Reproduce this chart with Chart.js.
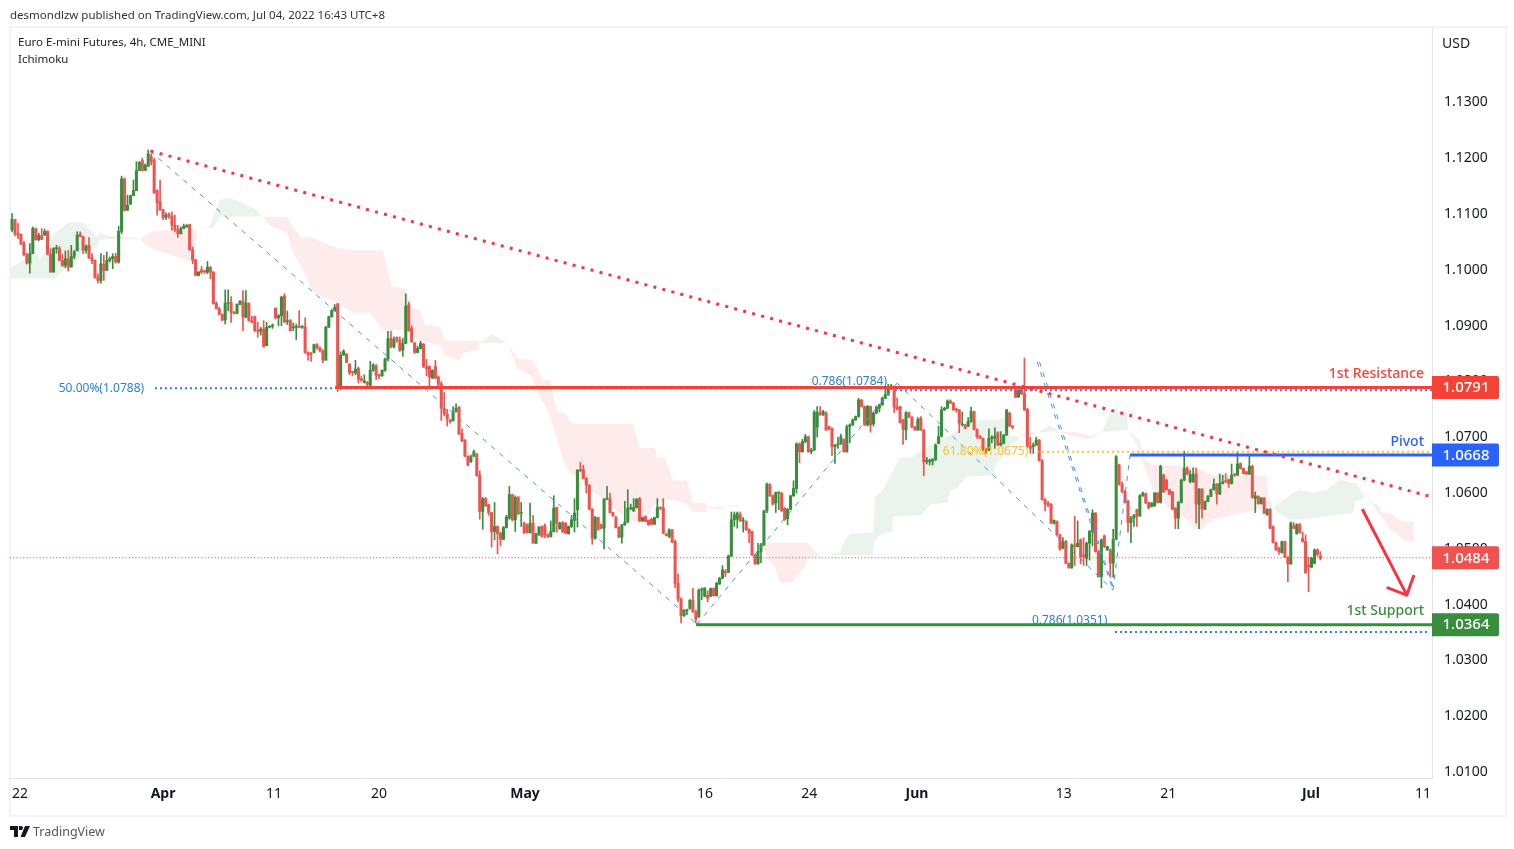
<!DOCTYPE html>
<html>
<head>
<meta charset="utf-8">
<title>Euro E-mini Futures</title>
<script src="https://cdn.jsdelivr.net/npm/chart.js@4/dist/chart.umd.min.js"></script>
<style>
  html, body { margin: 0; padding: 0; background: #fff; overflow: hidden; }
  body { width: 1514px; height: 849px; position: relative; font-family: "Noto Sans", sans-serif; color: #131722; }
  canvas { position: absolute; left: 0; top: 0; }
  .frame { position: absolute; left: 9px; top: 26px; width: 1494px; height: 787px; border: 2px solid #f0f3fa; }
  .txt { position: absolute; white-space: nowrap; }
</style>
</head>
<body>
<div class="frame"></div>
<canvas id="chart" width="1514" height="849"></canvas>
<div class="txt" style="left:10px;top:7px;font-size:11.5px;color:#333">desmondlzw published on TradingView.com, Jul 04, 2022 16:43 UTC+8</div>
<div class="txt" style="left:18px;top:34px;font-size:11.5px;color:#222">Euro E-mini Futures, 4h, CME_MINI</div>
<div class="txt" style="left:18px;top:51px;font-size:11.5px;color:#222">Ichimoku</div>
<div class="txt" style="left:1442px;top:33px;font-size:14px;color:#222">USD</div>
<svg class="txt" style="left:10px;top:826px" width="20" height="11" viewBox="0 0 20 11"><path fill="#131722" d="M0 0h8v11H4V4H0zM9 0h2a2 2 0 1 1 0 4H9zM15 0h5l-5 11h-4.500z"/></svg>
<div class="txt" style="left:33px;top:823px;font-size:12.500px;color:#555">TradingView</div>
<script>
// цены свечей
const opens = [
1.1072,1.1090,1.1065,1.1064,1.1048,1.1027,1.1012,1.1029,1.1074,1.1054,
1.1061,1.1062,1.1069,1.1028,1.0996,1.1038,1.1038,1.1017,1.1008,1.1020,
1.1005,1.1024,1.1034,1.1064,1.1060,1.1035,1.1044,1.1022,1.1017,1.0986,
1.0981,1.1010,1.0999,1.1017,1.1020,1.1024,1.1014,1.1069,1.1163,1.1107,
1.1118,1.1133,1.1142,1.1178,1.1196,1.1178,1.1186,1.1203,1.1196,1.1142,
1.1122,1.1108,1.1094,1.1100,1.1096,1.1080,1.1072,1.1065,1.1074,1.1077,
1.1081,1.1036,1.1018,1.0990,1.1000,1.0998,1.0996,1.1004,1.0996,1.0940,
1.0930,1.0920,1.0910,1.0940,1.0941,1.0924,1.0922,1.0938,1.0944,1.0915,
1.0940,1.0909,1.0916,1.0891,1.0890,1.0894,1.0864,1.0897,1.0899,1.0931,
1.0914,1.0918,1.0953,1.0907,1.0909,1.0896,1.0897,1.0898,1.0897,1.0898,
1.0852,1.0850,1.0852,1.0866,1.0860,1.0855,1.0838,1.0897,1.0916,1.0927,
1.0939,
1.0787,1.0847,1.0849,1.0831,1.0817,1.0815,1.0823,1.0805,1.0798,1.0798,
1.0793,1.0820,1.0828,1.0812,1.0810,1.0820,1.0840,1.0877,1.0862,1.0879,
1.0874,1.0856,1.0868,1.0937,1.0895,1.0869,1.0852,1.0859,1.0867,1.0825,
1.0827,1.0806,1.0827,1.0808,1.0796,1.0752,1.0742,1.0731,1.0730,1.0746,
1.0754,1.0707,1.0695,1.0666,1.0656,1.0666,1.0670,1.0632,1.0567,1.0590,
1.0579,1.0565,1.0531,1.0540,1.0528,1.0517,1.0538,1.0555,1.0597,1.0552,
1.0592,1.0564,1.0546,1.0543,1.0529,1.0546,1.0510,1.0525,1.0540,1.0541,
1.0525,1.0522,1.0531,1.0574,1.0536,1.0547,1.0546,1.0527,1.0540,1.0551,
1.0570,1.0642,1.0642,1.0626,1.0614,1.0571,1.0519,1.0556,1.0543,1.0537,
1.0589,1.0589,1.0565,1.0556,1.0538,1.0521,1.0543,1.0548,1.0572,1.0568,
1.0574,1.0590,1.0550,1.0558,1.0551,1.0553,1.0544,1.0556,1.0574,1.0574,
1.0526,1.0522,1.0534,1.0513,1.0438,1.0410,1.0380,1.0389,1.0393,1.0408,
1.0387,1.0378,1.0426,1.0415,1.0417,1.0415,1.0429,1.0416,1.0437,1.0447,
1.0459,
1.0458,1.0487,1.0552,1.0553,1.0561,1.0550,1.0549,1.0535,1.0531,1.0489,
1.0473,1.0495,1.0507,1.0568,1.0615,1.0595,1.0582,1.0600,1.0600,1.0573,
1.0554,1.0571,1.0595,1.0608,1.0688,1.0674,1.0692,1.0701,1.0674,1.0677,
1.0718,1.0744,1.0740,1.0743,1.0719,1.0716,1.0683,1.0686,1.0688,1.0696,
1.0674,1.0719,1.0722,1.0731,1.0737,1.0766,1.0755,1.0722,1.0755,1.0724,
1.0743,1.0752,1.0758,1.0770,1.0776,1.0788,1.0785,1.0754,1.0755,1.0731,
1.0713,1.0744,1.0736,1.0718,1.0713,1.0734,1.0713,1.0656,1.0656,1.0657,
1.0660,1.0689,1.0702,1.0749,1.0752,1.0765,1.0761,1.0750,1.0749,1.0722,
1.0722,1.0720,1.0728,1.0746,1.0714,1.0702,1.0698,1.0677,1.0677,1.0697,
1.0698,1.0708,1.0686,1.0689,1.0704,1.0743,1.0720,1.0784,1.0772,1.0784,
1.0778,1.0750,1.0684,1.0683,1.0686,1.0695,1.0658,
1.0588,1.0582,1.0580,1.0546,1.0549,1.0525,1.0501,1.0513,1.0474,1.0466,
1.0507,1.0504,1.0516,1.0489,1.0483,1.0510,1.0531,1.0564,1.0495,1.0450,
1.0523,1.0498,1.0498,1.0474,1.0517,1.0650,1.0615,1.0603,1.0586,1.0547,
1.0555,1.0570,1.0559,1.0595,1.0599,1.0583,1.0576,1.0577,1.0600,1.0583,
1.0632,1.0623,1.0606,1.0602,1.0573,1.0555,1.0583,1.0623,1.0644,1.0620,
1.0620,1.0634,1.0580,1.0607,1.0571,1.0585,1.0594,1.0606,1.0616,1.0598,
1.0617,1.0622,1.0624,1.0617,1.0634,1.0632,1.0653,1.0644,1.0638,1.0634,
1.0648,1.0590,1.0594,1.0581,1.0591,1.0561,1.0571,1.0540,1.0511,1.0501,
1.0493,1.0513,1.0485,1.0473,1.0541,1.0527,1.0544,1.0519,1.0513,1.0471,
1.0467,1.0474,1.0498,1.0487];
const highs = [
1.1101,1.1090,1.1083,1.1064,1.1051,1.1030,1.1047,1.1077,1.1075,1.1066,
1.1074,1.1073,1.1070,1.1038,1.1040,1.1044,1.1042,1.1028,1.1034,1.1035,
1.1044,1.1035,1.1068,1.1068,1.1060,1.1045,1.1058,1.1029,1.1018,1.0993,
1.1029,1.1026,1.1032,1.1023,1.1029,1.1030,1.1078,1.1168,1.1165,1.1134,
1.1134,1.1161,1.1194,1.1194,1.1200,1.1190,1.1215,1.1208,1.1200,1.1144,
1.1161,1.1109,1.1102,1.1102,1.1104,1.1098,1.1080,1.1077,1.1082,1.1081,
1.1082,1.1041,1.1019,1.0997,1.1006,1.1000,1.1015,1.1006,1.0997,1.0943,
1.0933,1.0921,1.0964,1.0964,1.0952,1.0925,1.0939,1.0945,1.0963,1.0963,
1.0941,1.0917,1.0917,1.0906,1.0897,1.0909,1.0906,1.0900,1.0903,1.0932,
1.0920,1.0953,1.0957,1.0926,1.0911,1.0905,1.0903,1.0927,1.0900,1.0914,
1.0853,1.0852,1.0867,1.0868,1.0862,1.0857,1.0899,1.0917,1.0929,1.0938,
1.0940,
1.0853,1.0857,1.0850,1.0832,1.0818,1.0838,1.0826,1.0810,1.0812,1.0800,
1.0836,1.0832,1.0830,1.0813,1.0821,1.0842,1.0890,1.0890,1.0880,1.0880,
1.0880,1.0877,1.0957,1.0942,1.0900,1.0870,1.0863,1.0872,1.0868,1.0840,
1.0828,1.0821,1.0838,1.0810,1.0800,1.0780,1.0750,1.0732,1.0755,1.0760,
1.0755,1.0715,1.0696,1.0667,1.0668,1.0677,1.0671,1.0640,1.0592,1.0592,
1.0580,1.0565,1.0583,1.0541,1.0530,1.0540,1.0560,1.0612,1.0598,1.0595,
1.0594,1.0583,1.0548,1.0545,1.0582,1.0560,1.0528,1.0540,1.0541,1.0545,
1.0527,1.0550,1.0595,1.0575,1.0548,1.0549,1.0547,1.0541,1.0560,1.0590,
1.0642,1.0655,1.0650,1.0628,1.0615,1.0572,1.0558,1.0557,1.0545,1.0590,
1.0612,1.0600,1.0566,1.0558,1.0540,1.0544,1.0585,1.0606,1.0580,1.0590,
1.0590,1.0592,1.0557,1.0559,1.0552,1.0555,1.0557,1.0590,1.0575,1.0590,
1.0528,1.0536,1.0535,1.0516,1.0455,1.0412,1.0391,1.0392,1.0409,1.0429,
1.0390,1.0428,1.0430,1.0430,1.0425,1.0430,1.0430,1.0440,1.0449,1.0470,
1.0463,
1.0489,1.0566,1.0566,1.0566,1.0566,1.0556,1.0550,1.0536,1.0532,1.0490,
1.0510,1.0510,1.0569,1.0618,1.0617,1.0597,1.0602,1.0602,1.0601,1.0574,
1.0572,1.0596,1.0622,1.0690,1.0690,1.0696,1.0705,1.0702,1.0680,1.0748,
1.0755,1.0755,1.0748,1.0746,1.0720,1.0717,1.0687,1.0700,1.0705,1.0697,
1.0722,1.0724,1.0733,1.0738,1.0770,1.0768,1.0756,1.0757,1.0756,1.0745,
1.0756,1.0759,1.0772,1.0790,1.0795,1.0795,1.0787,1.0770,1.0756,1.0732,
1.0746,1.0745,1.0737,1.0720,1.0735,1.0737,1.0714,1.0664,1.0661,1.0662,
1.0688,1.0720,1.0755,1.0754,1.0767,1.0767,1.0763,1.0752,1.0750,1.0745,
1.0723,1.0735,1.0754,1.0747,1.0715,1.0703,1.0699,1.0680,1.0715,1.0703,
1.0717,1.0710,1.0710,1.0705,1.0750,1.0745,1.0721,1.0786,1.0786,1.0790,
1.0842,1.0752,1.0700,1.0690,1.0700,1.0696,1.0660,
1.0590,1.0585,1.0581,1.0552,1.0550,1.0526,1.0520,1.0515,1.0475,1.0509,
1.0558,1.0550,1.0518,1.0520,1.0512,1.0533,1.0570,1.0565,1.0497,1.0518,
1.0525,1.0505,1.0500,1.0535,1.0667,1.0652,1.0620,1.0605,1.0587,1.0558,
1.0562,1.0571,1.0597,1.0602,1.0600,1.0584,1.0583,1.0601,1.0601,1.0650,
1.0634,1.0625,1.0607,1.0603,1.0574,1.0585,1.0625,1.0675,1.0647,1.0640,
1.0645,1.0645,1.0608,1.0608,1.0586,1.0596,1.0607,1.0625,1.0617,1.0634,
1.0632,1.0635,1.0625,1.0652,1.0635,1.0675,1.0654,1.0645,1.0639,1.0670,
1.0650,1.0602,1.0595,1.0592,1.0592,1.0572,1.0572,1.0541,1.0512,1.0503,
1.0514,1.0514,1.0486,1.0548,1.0547,1.0545,1.0545,1.0530,1.0525,1.0485,
1.0485,1.0500,1.0500,1.0495];
const lows = [
1.1068,1.1061,1.1056,1.1045,1.1025,1.1010,1.0994,1.1029,1.1053,1.1052,
1.1054,1.1062,1.1027,1.0996,1.0996,1.1030,1.1016,1.1006,1.1004,1.0998,
1.1005,1.1020,1.1034,1.1059,1.1029,1.1030,1.1020,1.1011,1.0985,1.0976,
1.0976,1.0981,1.0999,1.1014,1.1002,1.1012,1.1012,1.1065,1.1105,1.1106,
1.1117,1.1133,1.1142,1.1178,1.1177,1.1178,1.1185,1.1188,1.1137,1.1098,
1.1107,1.1090,1.1090,1.1092,1.1071,1.1068,1.1058,1.1064,1.1074,1.1076,
1.1035,1.1011,1.0990,1.0989,1.0993,1.0994,1.0993,1.0984,1.0939,1.0930,
1.0919,1.0909,1.0903,1.0927,1.0906,1.0921,1.0921,1.0937,1.0891,1.0914,
1.0908,1.0905,1.0889,1.0879,1.0883,1.0862,1.0864,1.0896,1.0895,1.0912,
1.0900,1.0900,1.0905,1.0902,1.0890,1.0891,1.0875,1.0896,1.0895,1.0850,
1.0838,1.0836,1.0851,1.0858,1.0853,1.0833,1.0838,1.0897,1.0915,1.0926,
1.0782,
1.0785,1.0847,1.0834,1.0812,1.0810,1.0812,1.0797,1.0800,1.0797,1.0787,
1.0790,1.0818,1.0803,1.0805,1.0809,1.0818,1.0837,1.0860,1.0860,1.0870,
1.0854,1.0845,1.0868,1.0890,1.0870,1.0850,1.0851,1.0858,1.0825,1.0810,
1.0792,1.0805,1.0805,1.0787,1.0730,1.0738,1.0720,1.0725,1.0729,1.0745,
1.0705,1.0692,1.0665,1.0649,1.0655,1.0665,1.0630,1.0553,1.0535,1.0576,
1.0560,1.0503,1.0516,1.0491,1.0505,1.0516,1.0537,1.0553,1.0550,1.0531,
1.0561,1.0540,1.0527,1.0528,1.0528,1.0510,1.0509,1.0524,1.0521,1.0520,
1.0520,1.0521,1.0530,1.0530,1.0535,1.0529,1.0527,1.0526,1.0538,1.0530,
1.0539,1.0638,1.0625,1.0600,1.0570,1.0508,1.0517,1.0533,1.0536,1.0500,
1.0588,1.0564,1.0558,1.0537,1.0520,1.0510,1.0542,1.0547,1.0570,1.0567,
1.0573,1.0549,1.0549,1.0548,1.0542,1.0543,1.0543,1.0555,1.0570,1.0527,
1.0523,1.0520,1.0511,1.0430,1.0405,1.0367,1.0379,1.0382,1.0392,1.0386,
1.0367,1.0377,1.0409,1.0414,1.0405,1.0414,1.0415,1.0415,1.0436,1.0446,
1.0450,
1.0457,1.0486,1.0540,1.0537,1.0549,1.0530,1.0533,1.0511,1.0488,1.0472,
1.0472,1.0475,1.0506,1.0565,1.0594,1.0578,1.0565,1.0570,1.0567,1.0551,
1.0543,1.0570,1.0594,1.0600,1.0654,1.0673,1.0690,1.0673,1.0670,1.0676,
1.0700,1.0739,1.0739,1.0712,1.0713,1.0667,1.0653,1.0680,1.0687,1.0673,
1.0673,1.0690,1.0721,1.0730,1.0736,1.0754,1.0721,1.0720,1.0709,1.0720,
1.0742,1.0745,1.0757,1.0769,1.0775,1.0785,1.0744,1.0749,1.0725,1.0687,
1.0695,1.0735,1.0717,1.0712,1.0712,1.0712,1.0631,1.0652,1.0650,1.0650,
1.0658,1.0688,1.0700,1.0748,1.0751,1.0760,1.0748,1.0745,1.0708,1.0720,
1.0715,1.0719,1.0727,1.0713,1.0698,1.0697,1.0676,1.0670,1.0676,1.0690,
1.0680,1.0685,1.0685,1.0688,1.0703,1.0719,1.0715,1.0771,1.0771,1.0776,
1.0748,1.0682,1.0671,1.0671,1.0685,1.0657,1.0587,
1.0568,1.0575,1.0545,1.0544,1.0524,1.0497,1.0500,1.0473,1.0465,1.0465,
1.0470,1.0503,1.0473,1.0470,1.0470,1.0480,1.0505,1.0494,1.0449,1.0430,
1.0502,1.0497,1.0449,1.0449,1.0516,1.0614,1.0600,1.0582,1.0530,1.0511,
1.0540,1.0540,1.0558,1.0594,1.0581,1.0572,1.0575,1.0576,1.0582,1.0582,
1.0601,1.0605,1.0597,1.0570,1.0536,1.0536,1.0582,1.0622,1.0633,1.0618,
1.0619,1.0546,1.0536,1.0555,1.0570,1.0584,1.0593,1.0605,1.0580,1.0597,
1.0616,1.0619,1.0610,1.0616,1.0630,1.0631,1.0643,1.0634,1.0633,1.0633,
1.0591,1.0565,1.0580,1.0580,1.0563,1.0560,1.0536,1.0510,1.0497,1.0490,
1.0492,1.0484,1.0441,1.0472,1.0536,1.0526,1.0528,1.0512,1.0456,1.0423,
1.0466,1.0473,1.0487,1.0480];
const closes = [
1.1090,1.1064,1.1062,1.1047,1.1027,1.1012,1.1029,1.1074,1.1054,1.1062,
1.1055,1.1069,1.1028,1.0996,1.1038,1.1039,1.1017,1.1008,1.1020,1.1005,
1.1024,1.1032,1.1062,1.1060,1.1035,1.1042,1.1022,1.1016,1.0986,1.0981,
1.1011,1.0999,1.1017,1.1020,1.1024,1.1014,1.1069,1.1163,1.1107,1.1116,
1.1133,1.1142,1.1178,1.1193,1.1178,1.1188,1.1208,1.1194,1.1138,1.1120,
1.1107,1.1094,1.1098,1.1096,1.1080,1.1072,1.1065,1.1074,1.1078,1.1080,
1.1036,1.1018,1.0990,1.0996,1.0996,1.0996,1.1005,1.0996,1.0939,1.0930,
1.0920,1.0910,1.0940,1.0941,1.0924,1.0922,1.0938,1.0944,1.0915,1.0941,
1.0909,1.0906,1.0891,1.0890,1.0894,1.0862,1.0897,1.0899,1.0900,1.0914,
1.0918,1.0951,1.0907,1.0909,1.0891,1.0898,1.0899,1.0897,1.0898,1.0852,
1.0848,1.0848,1.0866,1.0860,1.0855,1.0838,1.0897,1.0916,1.0927,1.0933,
1.0787,
1.0847,1.0854,1.0834,1.0816,1.0816,1.0822,1.0804,1.0802,1.0801,1.0795,
1.0820,1.0830,1.0811,1.0810,1.0820,1.0840,1.0877,1.0862,1.0875,1.0874,
1.0856,1.0868,1.0935,1.0891,1.0871,1.0852,1.0859,1.0868,1.0826,1.0823,
1.0808,1.0820,1.0806,1.0795,1.0752,1.0742,1.0733,1.0728,1.0745,1.0752,
1.0706,1.0693,1.0666,1.0650,1.0665,1.0674,1.0631,1.0567,1.0590,1.0577,
1.0565,1.0531,1.0540,1.0527,1.0517,1.0538,1.0557,1.0597,1.0552,1.0592,
1.0563,1.0565,1.0529,1.0529,1.0546,1.0510,1.0527,1.0539,1.0522,1.0525,
1.0522,1.0531,1.0573,1.0546,1.0546,1.0531,1.0528,1.0540,1.0552,1.0564,
1.0641,1.0640,1.0626,1.0614,1.0571,1.0519,1.0556,1.0535,1.0537,1.0589,
1.0591,1.0565,1.0559,1.0538,1.0521,1.0543,1.0548,1.0573,1.0573,1.0574,
1.0589,1.0550,1.0556,1.0549,1.0543,1.0544,1.0556,1.0574,1.0573,1.0528,
1.0524,1.0534,1.0512,1.0438,1.0410,1.0380,1.0390,1.0391,1.0408,1.0387,
1.0374,1.0426,1.0428,1.0430,1.0411,1.0429,1.0416,1.0438,1.0447,1.0462,
1.0457,
1.0487,1.0552,1.0561,1.0564,1.0550,1.0552,1.0534,1.0528,1.0489,1.0473,
1.0495,1.0507,1.0568,1.0616,1.0595,1.0580,1.0601,1.0601,1.0568,1.0552,
1.0571,1.0595,1.0608,1.0688,1.0674,1.0692,1.0701,1.0674,1.0677,1.0745,
1.0745,1.0740,1.0746,1.0713,1.0714,1.0683,1.0686,1.0688,1.0701,1.0674,
1.0719,1.0722,1.0731,1.0737,1.0767,1.0755,1.0722,1.0755,1.0722,1.0743,
1.0754,1.0758,1.0770,1.0776,1.0791,1.0792,1.0754,1.0750,1.0726,1.0714,
1.0744,1.0736,1.0718,1.0713,1.0732,1.0713,1.0656,1.0659,1.0659,1.0660,
1.0686,1.0701,1.0749,1.0752,1.0765,1.0761,1.0749,1.0749,1.0725,1.0723,
1.0716,1.0728,1.0746,1.0714,1.0701,1.0698,1.0677,1.0675,1.0698,1.0700,
1.0702,1.0686,1.0690,1.0704,1.0749,1.0720,1.0718,1.0772,1.0784,1.0778,
1.0749,1.0683,1.0680,1.0686,1.0695,1.0658,1.0588,
1.0580,1.0579,1.0546,1.0551,1.0525,1.0500,1.0513,1.0474,1.0466,1.0507,
1.0504,1.0510,1.0486,1.0486,1.0510,1.0531,1.0564,1.0495,1.0450,1.0516,
1.0504,1.0504,1.0474,1.0517,1.0665,1.0615,1.0603,1.0583,1.0547,1.0555,
1.0560,1.0558,1.0595,1.0600,1.0582,1.0573,1.0582,1.0600,1.0583,1.0648,
1.0602,1.0606,1.0598,1.0571,1.0555,1.0583,1.0623,1.0644,1.0634,1.0633,
1.0634,1.0580,1.0607,1.0571,1.0585,1.0594,1.0606,1.0616,1.0598,1.0617,
1.0620,1.0620,1.0617,1.0632,1.0632,1.0652,1.0644,1.0635,1.0634,1.0648,
1.0592,1.0595,1.0581,1.0591,1.0564,1.0570,1.0537,1.0511,1.0498,1.0495,
1.0513,1.0485,1.0473,1.0546,1.0537,1.0543,1.0529,1.0513,1.0457,1.0468,
1.0483,1.0498,1.0490,1.0483];

// облако ишимоку: индекс бара и две границы
const cloudIdx = [0,3.4,7.8,9.1,10.1,15.2,17.6,19.3,22,24.7,29.4,30.4,32.8,42.9,43.9,47.3,54,61.8,63.2,67.6,68.6,70.9,74.3,77.7,83.4,85.1,87.8,93.6,95.6,98.6,102.4,110.5,115.9,121.6,126,128.4,129.4,133.4,135.8,138.5,140.2,145.3,147,152,153,158.1,158.8,162.8,164.5,167.9,170,171.3,176.4,178.4,179.7,182.4,184.8,187.5,189.9,191.6,199.3,204.4,209.5,210.5,212.8,214.5,216.9,217.9,218.9,221.3,224,228.7,230.7,234.8,235.8,240.5,242.6,249,250.7,253.4,256.8,258.4,260,264.5,268.6,269.6,273.6,280.4,282.1,283.8,291.6,292.2,294.9,298,298.3,300.7,305,308,310.8,316.6,317.6,320,323.3,324.3,331,332,333.4,336.1,337.2,341.2,344.6,347,351.4,354.7,359.8,365.5,368.9,371.6,377.4,377.7,380.7,381.8,382.4,386.1,390.9,397.6,400.3,402.7,406.4,424.7,425,426.4,428,432.4,435.8,440.2,444.9,449.3,453.7,454.4,455,457.8,460.5,462.2,463.5,466.2,469.6,470.3,474.3];
const spanA = [1.1002,1.1014,1.1030,1.1032,1.1018,1.1066,1.1075,1.1084,1.1086,1.1084,1.1059,1.1066,1.1061,1.1057,1.1055,1.1039,1.1027,1.1014,1.1073,1.1077,1.1095,1.1125,1.1129,1.1122,1.1107,1.1095,1.1080,1.1066,1.1030,1.1005,1.0959,1.0941,1.0923,1.0923,1.0892,1.0892,1.0892,1.0892,1.0882,1.0874,1.0871,1.0865,1.0847,1.0837,1.0851,1.0856,1.0869,1.0885,1.0880,1.0869,1.0844,1.0824,1.0808,1.0781,1.0767,1.0740,1.0695,1.0650,1.0632,1.0629,1.0593,1.0570,1.0552,1.0550,1.0548,1.0548,1.0575,1.0579,1.0582,1.0588,1.0588,1.0579,1.0566,1.0566,1.0573,1.0570,1.0577,1.0577,1.0546,1.0511,1.0475,1.0468,1.0439,1.0441,1.0468,1.0484,1.0487,1.0494,1.0516,1.0527,1.0529,1.0593,1.0606,1.0638,1.0641,1.0663,1.0665,1.0677,1.0686,1.0701,1.0704,1.0713,1.0726,1.0731,1.0731,1.0731,1.0731,1.0735,1.0704,1.0700,1.0702,1.0708,1.0722,1.0710,1.0700,1.0697,1.0710,1.0745,1.0745,1.0713,1.0686,1.0672,1.0659,1.0606,1.0575,1.0552,1.0534,1.0534,1.0552,1.0575,1.0575,1.0575,1.0579,1.0597,1.0606,1.0600,1.0606,1.0624,1.0618,1.0618,1.0615,1.0593,1.0579,1.0564,1.0557,1.0534,1.0522,1.0516,1.0512];
const spanB = [1.0984,1.0984,1.0984,1.0984,1.0984,1.0984,1.0996,1.1003,1.1014,1.1030,1.1041,1.1054,1.1055,1.1055,1.1055,1.1068,1.1072,1.1073,1.1073,1.1075,1.1075,1.1095,1.1095,1.1095,1.1095,1.1095,1.1095,1.1095,1.1077,1.1059,1.1057,1.1039,1.1035,1.1035,1.1035,1.0982,1.0969,1.0968,1.0932,1.0928,1.0901,1.0898,1.0873,1.0873,1.0873,1.0873,1.0869,1.0869,1.0869,1.0869,1.0853,1.0842,1.0838,1.0821,1.0804,1.0804,1.0745,1.0743,1.0724,1.0724,1.0724,1.0724,1.0724,1.0724,1.0681,1.0681,1.0681,1.0681,1.0663,1.0663,1.0623,1.0623,1.0582,1.0582,1.0575,1.0575,1.0575,1.0577,1.0546,1.0511,1.0511,1.0511,1.0511,1.0511,1.0511,1.0511,1.0487,1.0489,1.0489,1.0489,1.0489,1.0516,1.0528,1.0530,1.0557,1.0559,1.0559,1.0561,1.0579,1.0582,1.0604,1.0609,1.0629,1.0629,1.0631,1.0633,1.0654,1.0668,1.0681,1.0700,1.0711,1.0708,1.0710,1.0710,1.0710,1.0702,1.0710,1.0710,1.0713,1.0713,1.0699,1.0695,1.0665,1.0650,1.0650,1.0650,1.0645,1.0641,1.0632,1.0632,1.0597,1.0575,1.0566,1.0552,1.0552,1.0555,1.0559,1.0561,1.0564,1.0582,1.0582,1.0593,1.0582,1.0579,1.0564,1.0564,1.0552,1.0550,1.0548];

// линии разметки
const trendIdx = [47.5, 480.4];
const trendPrice = [1.1213, 1.0593];
const legAIdx = [47.3, 232.1];
const legAPrice = [1.1213, 1.0365];
const legBIdx = [232.1, 299.7];
const legBPrice = [1.0365, 1.0797];
const legCIdx = [299.7, 372.6];
const legCPrice = [1.0797, 1.0426];
const legDIdx = [347, 372.6];
const legDPrice = [1.0835, 1.0426];
const legD2Idx = [347.8, 373];
const legEIdx = [372.6, 378.4];
const legEPrice = [1.0426, 1.0668];
const arrowIdx = [456.1, 471.9, 465.5, 471.9, 474.3];
const arrowPrice = [1.0579, 1.0417, 1.0430, 1.0417, 1.0453];

// уровни
const levelPrices = [1.0789, 1.0668, 1.0484, 1.0364];
const levelLabels = ['1.0791', '1.0668', '1.0484', '1.0364'];
const levelColors = ['#f44336', '#2962ff', '#ef5350', '#388e3c'];

// оси
const yTicks = [1.01, 1.02, 1.03, 1.04, 1.05, 1.06, 1.07, 1.08, 1.09, 1.10, 1.11, 1.12, 1.13];
const xTicks = [3.4, 51.7, 89.2, 124.7, 174, 234.8, 270, 306.4, 356, 391.3, 439.5, 477.4];
const xLabels = ['22', 'Apr', '11', '20', 'May', '16', '24', 'Jun', '13', '21', 'Jul', '11'];
const boldLabels = ['Apr', 'May', 'Jun', 'Jul'];

const GREEN = '#388e3c';
const RED = '#ef5350';
const FONT = '"Noto Sans", sans-serif';

function series(idx, price) {
  return idx.map((x, k) => ({ x: x, y: price[k] }));
}

function flat(from, to, price) {
  return [{ x: from, y: price }, { x: to, y: price }];
}

function lineSet(data, color, width, dash, order) {
  return {
    type: 'line', data: data, borderColor: color, borderWidth: width, borderDash: dash || [],
    pointRadius: 0, tension: 0, fill: false, order: order || 1, borderJoinStyle: 'round'
  };
}

const candleX = opens.map((_, i) => i + 0.7);
const candleColors = opens.map((o, i) => closes[i] >= o ? GREEN : RED);

const datasets = [
  { type: 'line', data: series(cloudIdx, spanA), borderWidth: 0, pointRadius: 0, tension: 0, order: 20,
    fill: { target: '+1', above: '#ebf4ec', below: '#fdeceb' } },
  { type: 'line', data: series(cloudIdx, spanB), borderWidth: 0, pointRadius: 0, tension: 0, order: 21, fill: false },
  { type: 'bar', data: candleX.map((x, i) => ({ x: x, y: [lows[i], highs[i]] })), backgroundColor: candleColors,
    barThickness: 1, grouped: false, order: 11 },
  { type: 'bar', data: candleX.map((x, i) => ({ x: x, y: [opens[i], closes[i]] })), backgroundColor: candleColors,
    barThickness: 2.4, grouped: false, minBarLength: 1, order: 10 },
  lineSet(flat(0, 480.4, 1.0484), '#f23645', 1, [1, 2.3], 9),
  lineSet(flat(49, 299, 1.0788), '#2b7fd6', 2, [2, 3], 5),
  lineSet(flat(299, 480.4, 1.0784), '#2b7fd6', 2, [2, 3], 5),
  lineSet(flat(373.3, 479.7, 1.0351), '#2b7fd6', 2, [2, 3], 5),
  lineSet(flat(347, 480.4, 1.0674), '#fbc02d', 2, [2, 3], 5),
  lineSet(series(legAIdx, legAPrice), '#4a90e2', 1, [5, 6], 4),
  lineSet(series(legBIdx, legBPrice), '#4a90e2', 1, [5, 6], 4),
  lineSet(series(legCIdx, legCPrice), '#4a90e2', 1, [5, 6], 4),
  lineSet(series(legDIdx, legDPrice), '#4a90e2', 1, [5, 6], 4),
  lineSet(series(legD2Idx, legDPrice), '#4a90e2', 1, [5, 6], 4),
  lineSet(series(legEIdx, legEPrice), '#4a90e2', 1, [5, 6], 4),
  lineSet(flat(109.8, 480.4, levelPrices[0]), levelColors[0], 3, [], 3),
  lineSet(flat(378.4, 480.4, levelPrices[1]), levelColors[1], 3, [], 3),
  lineSet(flat(231.8, 480.4, levelPrices[3]), levelColors[3], 3, [], 3),
  lineSet(series(trendIdx, trendPrice), '#f23645', 3, [3, 6.3], 2),
  { type: 'line', data: [{ x: arrowIdx[0], y: arrowPrice[0] }], pointRadius: 5, pointBackgroundColor: '#fff',
    pointBorderWidth: 0, showLine: false, order: 1 },
  lineSet(series(arrowIdx, arrowPrice), '#f23645', 3, [], 0)
];

// подписи на графике
const notes = [
  { text: '50.00%(1.0788)', x: 45.3, y: 1.0788, color: '#2b7fd6', align: 'right', font: '12px ' + FONT },
  { text: '0.786(1.0784)', x: 296.3, y: 1.08, color: '#2b7fd6', align: 'right', font: '12px ' + FONT },
  { text: '61.80%(1.0675)', x: 344, y: 1.0674, color: '#fbc02d', align: 'right', font: '12px ' + FONT },
  { text: '0.786(1.0351)', x: 370.7, y: 1.0372, color: '#2b7fd6', align: 'right', font: '12px ' + FONT },
  { text: '1st Resistance', x: 477.7, y: 1.0814, color: '#f44336', align: 'right', font: '500 14px ' + FONT },
  { text: 'Pivot', x: 477.7, y: 1.0691, color: '#2962ff', align: 'right', font: '500 14px ' + FONT },
  { text: '1st Support', x: 477.7, y: 1.0388, color: '#388e3c', align: 'right', font: '500 14px ' + FONT }
];

const labelsPlugin = {
  id: 'labelsPlugin',
  afterDatasetsDraw(chart) {
    const c = chart.ctx, sx = chart.scales.x, sy = chart.scales.y;
    c.save();
    c.textBaseline = 'middle';
    notes.forEach(n => {
      c.font = n.font;
      c.fillStyle = n.color;
      c.textAlign = n.align;
      c.fillText(n.text, sx.getPixelForValue(n.x), sy.getPixelForValue(n.y));
    });
    c.restore();
  },
  afterDraw(chart) {
    const c = chart.ctx, sy = chart.scales.y, left = chart.chartArea.right;
    c.save();
    c.textBaseline = 'middle';
    c.textAlign = 'center';
    c.font = '500 15px ' + FONT;
    levelPrices.forEach((p, k) => {
      const y = sy.getPixelForValue(p);
      c.fillStyle = levelColors[k];
      c.beginPath();
      c.roundRect(left, y - 11.5, 67, 23, [0, 2, 2, 0]);
      c.fill();
      c.fillStyle = '#fff';
      c.fillText(levelLabels[k], left + 34, y + 0.5);
    });
    c.restore();
  }
};

new Chart(document.getElementById('chart'), {
  data: { datasets: datasets },
  plugins: [labelsPlugin],
  options: {
    responsive: false,
    animation: false,
    devicePixelRatio: 1,
    events: [],
    layout: { padding: { left: 10, right: 10, top: 27, bottom: 35 } },
    plugins: { legend: { display: false }, tooltip: { enabled: false }, filler: { drawTime: 'beforeDatasetsDraw', propagate: false } },
    scales: {
      x: {
        type: 'linear', min: 0, max: 480.4, offset: false,
        grid: { display: false, drawTicks: false },
        border: { display: true, color: '#e0e3eb' },
        afterBuildTicks: s => { s.ticks = xTicks.map(v => ({ value: v })); },
        afterFit: s => { s.height = 36; },
        ticks: {
          autoSkip: false, maxRotation: 0, padding: 8, color: '#131722',
          font: ctx => ({ family: FONT, size: 14, weight: boldLabels.includes(xLabels[ctx.index]) ? 'bold' : 'normal' }),
          callback: (v, i) => xLabels[i]
        }
      },
      y: {
        type: 'linear', position: 'right', min: 1.00892, max: 1.14353,
        grid: { display: false, drawTicks: false },
        border: { display: true, color: '#e0e3eb' },
        afterBuildTicks: s => { s.ticks = yTicks.map(v => ({ value: v })); },
        afterFit: s => { s.width = 72; },
        ticks: { padding: 12, color: '#131722', font: { family: FONT, size: 14 }, callback: v => v.toFixed(4) }
      }
    }
  }
});
console.log(opens.length, highs.length, lows.length, closes.length, cloudIdx.length, spanA.length, spanB.length);
</script>
</body>
</html>
